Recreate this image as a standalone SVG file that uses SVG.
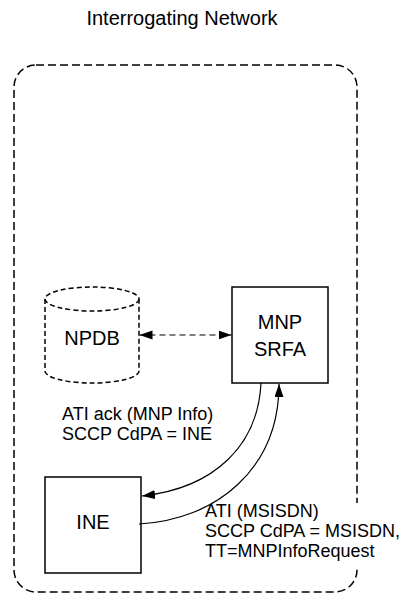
<svg xmlns="http://www.w3.org/2000/svg" width="411" height="603" viewBox="0 0 411 603">
<style>
text{font-family:"Liberation Sans",Arial,sans-serif;fill:#000}
.node{font-size:20px;text-anchor:middle}
.lbl{font-size:18px}
.box{fill:#fff;stroke:#000;stroke-width:1.5}
.conn{fill:none;stroke:#000;stroke-width:1.2}
</style>
<defs>
<marker id="ah" markerUnits="userSpaceOnUse" markerWidth="14" markerHeight="10" refX="13" refY="4.5" orient="auto-start-reverse">
<path d="M0,0 L13,4.5 L0,9 z" fill="#000"/>
</marker>
</defs>
<text x="182" y="25" style="font-size:20px;text-anchor:middle">Interrogating Network</text>
<g id="network">
<rect x="14" y="65" width="343" height="527" rx="22" ry="22" fill="none" stroke="#000" stroke-width="1.5" stroke-dasharray="8,4"/>
</g>
<g id="npdb">
<path d="M45,299 L45,371 A47,12 0 0,0 139,371 L139,299" fill="#fff" stroke="#000" stroke-width="1.5" stroke-dasharray="5,3"/>
<ellipse cx="92" cy="299" rx="47" ry="12" fill="#fff" stroke="#000" stroke-width="1.5" stroke-dasharray="5,3"/>
<text class="node" x="92" y="345">NPDB</text>
</g>
<g id="srfa">
<rect class="box" x="232" y="287" width="96" height="96"/>
<text class="node" x="280" y="329">MNP</text>
<text class="node" x="280" y="356">SRFA</text>
</g>
<g id="ine">
<rect class="box" x="45" y="477" width="96" height="96"/>
<text class="node" x="93" y="529">INE</text>
</g>
<g id="labels">
<text class="lbl" x="62" y="420">ATI ack (MNP Info)</text>
<text class="lbl" x="62" y="440">SCCP CdPA = INE</text>
<rect x="203" y="503" width="206" height="64" fill="#fff"/>
<text class="lbl" x="205" y="517">ATI (MSISDN)</text>
<text class="lbl" x="205" y="537">SCCP CdPA = MSISDN,</text>
<text class="lbl" x="205" y="557">TT=MNPInfoRequest</text>
</g>
<g id="connectors">
<line class="conn" x1="139.5" y1="335" x2="231.5" y2="335" stroke-dasharray="6,4" stroke-width="1.5" marker-start="url(#ah)" marker-end="url(#ah)"/>
<path class="conn" d="M261,383 C258,445 215,488 142,496" marker-end="url(#ah)"/>
<path class="conn" d="M139,524 C215,520 279,470 279,384" marker-end="url(#ah)"/>
</g>
</svg>
